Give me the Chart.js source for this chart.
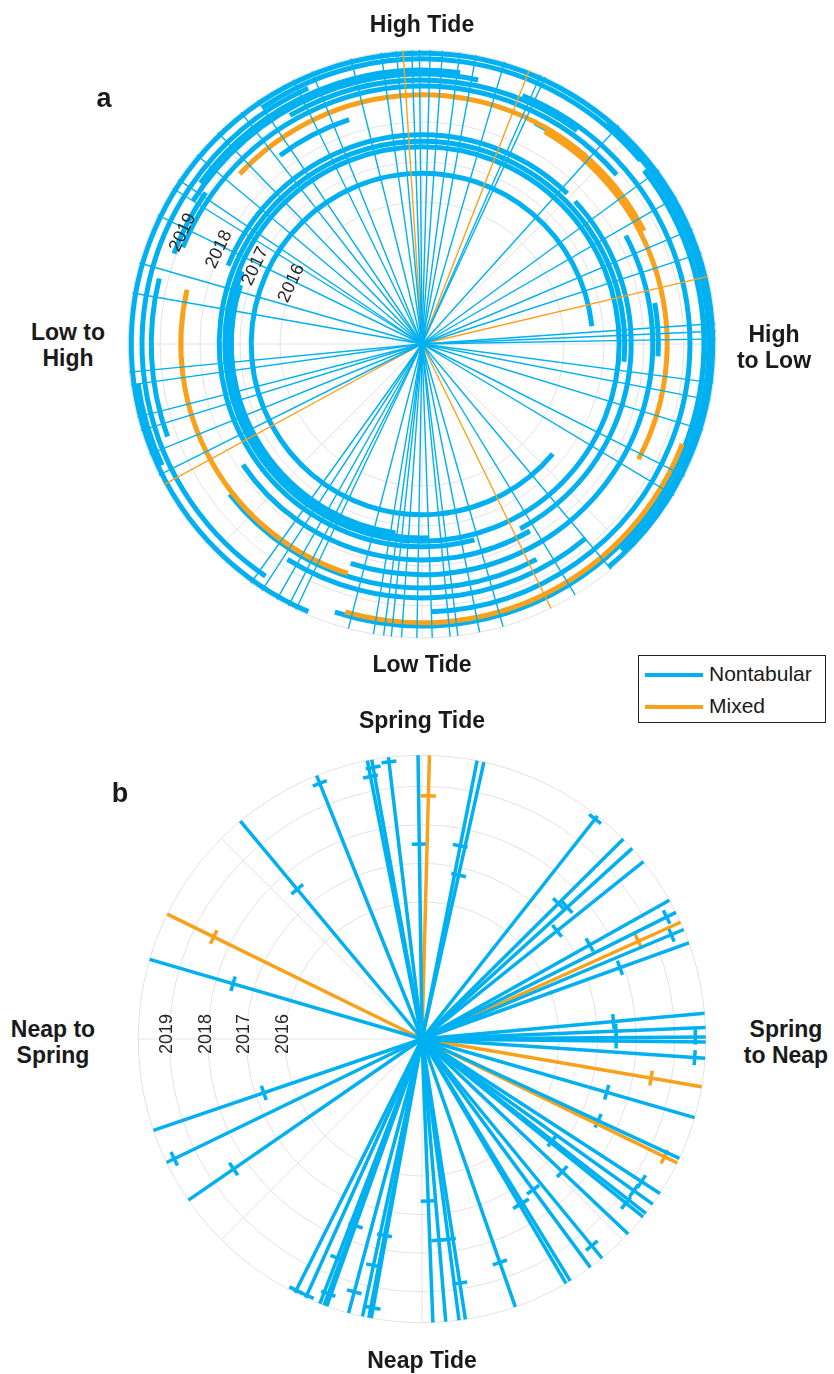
<!DOCTYPE html>
<html>
<head>
<meta charset="utf-8">
<script src="https://cdn.jsdelivr.net/npm/chart.js@4.4.1/dist/chart.umd.min.js"></script>
<style>
  body { margin: 0; background: #fff; }
  #wrap { position: relative; width: 834px; height: 1374px; overflow: hidden; font-family: "Liberation Sans", Arial, sans-serif; color: #1a1a1a; }
  canvas { position: absolute; }
  .t { position: absolute; transform: translate(-50%, -50%); font-weight: bold; font-size: 23px; line-height: 26px; text-align: center; white-space: nowrap; z-index: 2; }
  .p { font-size: 27px; }
  .sw { position: absolute; width: 58px; height: 4px; z-index: 2; }
  .lt { position: absolute; font-size: 21px; line-height: 24px; z-index: 2; }
</style>
</head>
<body>
<div id="wrap">
  <canvas id="chartA" width="632" height="632" style="left:106px; top:28px;"></canvas>
  <canvas id="chartB" width="632" height="632" style="left:106px; top:723px;"></canvas>

  <div class="t" style="left:422px; top:24px;">High Tide</div>
  <div class="t" style="left:422px; top:664px;">Low Tide</div>
  <div class="t" style="left:68px; top:345px;">Low to<br>High</div>
  <div class="t" style="left:774px; top:347px;">High<br>to Low</div>
  <div class="t p" style="left:104px; top:98px;">a</div>

  <div class="t" style="left:422px; top:720px;">Spring Tide</div>
  <div class="t" style="left:422px; top:1360px;">Neap Tide</div>
  <div class="t" style="left:53px; top:1042px;">Neap to<br>Spring</div>
  <div class="t" style="left:786px; top:1042px;">Spring<br>to Neap</div>
  <div class="t p" style="left:120px; top:793px;">b</div>

  <div style="position:absolute; left:638px; top:655px; width:186px; height:66px; border:1px solid #222; background:#fff; z-index:1;"></div>
  <div class="sw" style="left:645px; top:673px; background:#00B0F0;"></div>
  <div class="lt" style="left:709px; top:662px;">Nontabular</div>
  <div class="sw" style="left:645px; top:705px; background:#F9A11B;"></div>
  <div class="lt" style="left:709px; top:694px;">Mixed</div>
</div>

<script>
const blue = '#00B0F0';
const orange = '#F9A11B';

// radial axis = event date (decimal year)
const rMin = 2012.45;
const rMax = 2019.8;
const yearTicks = [2016, 2017, 2018, 2019];
const gridAngles = [0, 45, 90, 135, 180, 225, 270, 315];

// panel a: tidal phase (deg clockwise from High Tide) of each event start
const aLineNontab = [280, 286, 296, 302, 304, 310, 316, 322, 326, 334, 338, 346, 352, 355, 358, 359.5,
  1.6, 4, 7.4, 10.6, 16.3, 23.8, 24.8, 42, 53.7, 60, 67, 72, 86, 87.5, 89,
  97.6, 101, 107, 116.7, 121, 140, 148.6, 164, 168.7, 173, 174.5, 178, 181, 184, 186, 187.5, 189.5,
  194.5, 205.4, 207, 209.6, 213, 215.6, 243.5, 248, 252.9, 255.6, 262, 264.5];
const aLineMixed = [356.3, 21.4, 76.7, 154, 241.4];

// panel a: event arcs [date, start phase, end phase]
const aArcNontab = [
  [2016.72, 130, 444], [2017.22, 188, 288], [2017.30, 178, 292], [2017.38, 0, 360],
  [2017.52, 165, 455], [2017.68, 292, 404], [2017.68, 47, 152], [2017.85, 150, 236],
  [2018.22, 62, 198], [2018.36, 80, 93], [2018.35, 323, 342], [2018.55, 152, 232],
  [2018.66, 27, 34], [2018.80, 140, 212], [2018.90, 292, 409], [2019.05, 330, 396],
  [2019.05, 290, 305], [2019.15, 22, 178], [2019.20, 302, 372], [2019.30, 306, 368],
  [2019.45, 214, 336], [2019.50, 52, 198], [2019.58, 326, 410], [2019.62, 40, 136],
  [2019.72, 203, 500], [2019.22, 250, 284], [2019.62, 245, 262]
];
const aArcMixed = [
  [2018.68, 313, 423], [2018.58, 30, 118], [2018.48, 198, 283], [2019.42, 111, 196]
];

// panel b: spring-neap phase (deg clockwise from Spring Tide) and event date
const bAngNontab = [320.2, 338.2, 348.9, 349.8, 353.2, 359.2, 286.3, 11.2, 12.6, 38.2,
  45.2, 47.8, 51.3, 60.7, 63.5, 67.3, 70.2, 84.8, 87.7, 89.6, 90.6, 93.9,
  106.1, 114.9, 123, 125.6, 127.9, 128.8, 133.4, 140.6, 143.6, 148.5, 149.5, 160.8,
  171.2, 172.5, 175.2, 177.8, 251.2, 244.2, 235.4, 206.6, 204.2, 201.1, 200.2, 199.6,
  195, 192.1, 190.8, 190.3];
const bDateNontab = [2017.5, 2019.58, 2019.38, 2019.6, 2019.68, 2017.5, 2017.55, 2017.55, 2016.8, 2019.7,
  2017.43, 2017.53, 2016.93, 2017.43, 2019.53, 2019.45, 2017.9, 2017.43, 2017.48, 2019.53, 2017.48, 2019.53,
  2017.43, 2017.48, 2019.23, 2019.2, 2016.73, 2019.23, 2017.45, 2019.38, 2017.3, 2017.43, 2017.43, 2018.58,
  2018.85, 2017.68, 2017.68, 2016.65, 2016.78, 2019.58, 2018.38, 2019.73, 2019.73, 2018.53, 2019.48, 2017.58,
  2019.23, 2018.45, 2017.63, 2019.53];
const bAngMixed = [1.5, 296.1, 65.7, 99.7, 115.9];
const bDateMixed = [2018.75, 2018.46, 2018.6, 2018.47, 2019.43];

function toXY(deg, yr) {
  const u = (yr - rMin) / (rMax - rMin);
  const a = deg * Math.PI / 180;
  return { x: u * Math.sin(a), y: u * Math.cos(a) };
}

function spokes(angles, color, width) {
  return angles.map(a => ({
    data: [toXY(a, rMin), toXY(a, rMax)],
    showLine: true,
    borderColor: color,
    borderWidth: width,
    pointRadius: 0
  }));
}

function tickMarks(angles, dates, color) {
  return {
    data: angles.map((a, i) => toXY(a, dates[i])),
    showLine: false,
    pointStyle: 'line',
    pointRadius: 7.5,
    pointBorderWidth: 3.5,
    pointBorderColor: color,
    pointRotation: angles
  };
}

/** Draws the polar grid, the arcs and the year labels through the x/y scales. */
const polarPlugin = {
  id: 'polar',
  beforeDatasetsDraw(chart, args, o) {
    const { ctx, scales: { x, y } } = chart;
    const cx = x.getPixelForValue(0), cy = y.getPixelForValue(0);
    const rad = yr => x.getPixelForValue((yr - rMin) / (rMax - rMin)) - cx;
    ctx.save();
    ctx.strokeStyle = '#e2e2e2';
    ctx.lineWidth = 1;
    gridAngles.forEach(a => {
      const p = toXY(a, rMax);
      ctx.beginPath();
      ctx.moveTo(cx, cy);
      ctx.lineTo(x.getPixelForValue(p.x), y.getPixelForValue(p.y));
      ctx.stroke();
    });
    yearTicks.concat([rMax]).forEach(t => {
      ctx.beginPath();
      ctx.arc(cx, cy, rad(t), 0, 2 * Math.PI);
      ctx.stroke();
    });
    (o.arcs || []).forEach(set => {
      ctx.strokeStyle = set.color;
      ctx.lineWidth = set.width;
      ctx.lineCap = 'butt';
      set.list.forEach(([yr, s, e]) => {
        ctx.beginPath();
        ctx.arc(cx, cy, rad(yr), (s - 90) * Math.PI / 180, (e - 90) * Math.PI / 180);
        ctx.stroke();
      });
    });
    ctx.restore();
  },
  afterDatasetsDraw(chart, args, o) {
    const { ctx, scales: { x, y } } = chart;
    ctx.save();
    ctx.font = '18px "Liberation Sans", Arial, sans-serif';
    ctx.fillStyle = '#262626';
    ctx.textAlign = 'center';
    ctx.textBaseline = 'middle';
    yearTicks.forEach(t => {
      const p = toXY(o.labelAngle, t);
      ctx.save();
      ctx.translate(x.getPixelForValue(p.x), y.getPixelForValue(p.y));
      ctx.rotate((o.labelAngle - 360) * Math.PI / 180);
      ctx.fillText(String(t), o.labelShift, -2);
      ctx.restore();
    });
    ctx.restore();
  }
};

function makeChart(id, datasets, arcs, labelAngle, labelShift) {
  return new Chart(document.getElementById(id), {
    type: 'scatter',
    data: { datasets: datasets },
    options: {
      responsive: false,
      animation: false,
      events: [],
      layout: { padding: 0 },
      scales: {
        x: { type: 'linear', min: -1.075, max: 1.075, display: false },
        y: { type: 'linear', min: -1.075, max: 1.075, display: false }
      },
      plugins: {
        legend: { display: false },
        tooltip: { enabled: false },
        polar: { arcs: arcs, labelAngle: labelAngle, labelShift: labelShift }
      }
    },
    plugins: [polarPlugin]
  });
}

makeChart('chartA',
  spokes(aLineNontab, blue, 1.4).concat(spokes(aLineMixed, orange, 1.4)),
  [{ color: blue, width: 5, list: aArcNontab }, { color: orange, width: 5, list: aArcMixed }],
  295, 0);

makeChart('chartB',
  spokes(bAngNontab, blue, 3.5).concat(spokes(bAngMixed, orange, 3.5))
    .concat([tickMarks(bAngNontab, bDateNontab, blue), tickMarks(bAngMixed, bDateMixed, orange)]),
  [],
  270, 5);
</script>
</body>
</html>
